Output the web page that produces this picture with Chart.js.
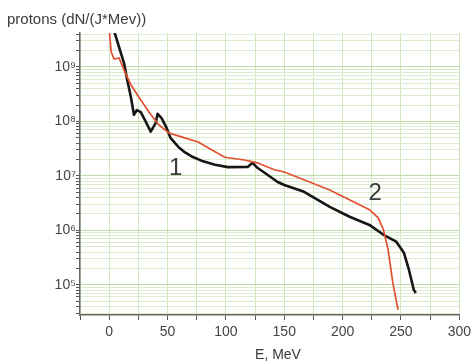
<!DOCTYPE html>
<html>
<head>
<meta charset="utf-8">
<script src="https://cdn.jsdelivr.net/npm/chart.js@4.4.1/dist/chart.umd.min.js"></script>
<style>
  body { margin: 0; background: #fff; }
  #wrap { width: 475px; height: 364px; position: relative; }
</style>
</head>
<body>
<div id="wrap"><canvas id="myChart"></canvas></div>
<script>
// curve 1 (black)
const energy1 = [3, 8.5, 12.7, 15.3, 18.6, 19.8, 21.2, 23.7, 27.1, 31.4,
    35.6, 39.8, 41.5, 44.9, 49.2, 52.5, 59.3, 65, 70.3, 80.5, 90.7,
    101.7, 118.6, 122.9, 127, 135.6, 144, 150, 167, 189, 206,
    223, 235, 246, 252.5, 256.8, 261, 262.7];
const flux1 = [5.6e9, 2.3e9, 1.18e9, 6.0e8, 2.8e8, 2.0e8, 1.32e8, 1.62e8, 1.48e8, 9.8e7,
    6.5e7, 9.3e7, 1.38e8, 1.15e8, 7.6e7, 5.0e7, 3.4e7, 2.7e7, 2.3e7, 1.85e7, 1.6e7,
    1.45e7, 1.46e7, 1.74e7, 1.41e7, 1.05e7, 7.8e6, 6.8e6, 5.1e6, 2.7e6, 1.78e6,
    1.26e6, 8.3e5, 6.2e5, 3.9e5, 1.9e5, 8.1e4, 7.1e4];

// curve 2 (red)
const energy2 = [0, 1.7, 4.2, 8.5, 12.7, 18.6, 25.4, 33.9, 42.4, 50.8,
    61.9, 76.3, 84.7, 99, 116, 127, 141.5, 150, 189, 223,
    230.5, 235, 239, 243, 247.5];
const flux2 = [5e9, 1.9e9, 1.4e9, 1.46e9, 8.8e8, 4.7e8, 2.8e8, 1.5e8, 8.7e7, 6.2e7,
    5.2e7, 4.2e7, 3.3e7, 2.2e7, 1.96e7, 1.74e7, 1.3e7, 1.18e7, 5.5e6, 2.4e6,
    1.7e6, 1.03e6, 4.4e5, 1.1e5, 3.5e4];

// curve names written on the plot
const curveNames = ['1', '2'];
const curveNameE = [57, 228];
const curveNameFlux = [1.4e7, 4.8e6];

// axes
const yDecades = [1e4, 1e5, 1e6, 1e7, 1e8, 1e9];
const yTickLabels = ['10\u2074', '10\u2075', '10\u2076', '10\u2077', '10\u2078', '10\u2079'];
const yMantissas = [1, 2, 3, 4, 5, 6, 7, 8, 9];
const xLabelled = [0, 50, 100, 150, 200, 250, 300];
const yTitle = 'protons (dN/(J*Mev))';
const xTitle = 'E, MeV';

const FONT = 'Arial, "Liberation Sans", sans-serif';

function points(xs, ys) {
    return xs.map((x, i) => ({ x: x, y: ys[i] }));
}

const textPlugin = {
    id: 'texts',
    afterDraw(chart) {
        const ctx = chart.ctx;
        const sx = chart.scales.x;
        const sy = chart.scales.y;
        ctx.save();
        ctx.fillStyle = '#3a3a3a';
        ctx.font = '15px ' + FONT;
        ctx.textAlign = 'left';
        ctx.textBaseline = 'alphabetic';
        ctx.fillText(yTitle, 7, 24);

        ctx.font = '14px ' + FONT;
        ctx.textAlign = 'center';
        ctx.fillText(xTitle, 278, 359);

        ctx.font = '24px ' + FONT;
        ctx.textBaseline = 'middle';
        for (let i = 0; i < curveNames.length; i++) {
            ctx.fillText(curveNames[i], sx.getPixelForValue(curveNameE[i]), sy.getPixelForValue(curveNameFlux[i]));
        }
        ctx.restore();
    }
};

const ctx = document.getElementById('myChart');

new Chart(ctx, {
    type: 'line',
    data: {
        datasets: [
            {
                data: points(energy1, flux1),
                borderColor: '#161616',
                borderWidth: 2.6,
                pointRadius: 0,
                borderJoinStyle: 'round',
                order: 2,
            },
            {
                data: points(energy2, flux2),
                borderColor: '#e2502f',
                borderWidth: 1.7,
                pointRadius: 0,
                order: 1,
            },
        ],
    },
    options: {
        responsive: true,
        maintainAspectRatio: false,
        animation: false,
        layout: { padding: { top: 33, right: 11, left: 0, bottom: 0 } },
        plugins: {
            legend: { display: false },
            tooltip: { enabled: false },
        },
        scales: {
            x: {
                type: 'linear',
                min: -25,
                max: 300,
                afterFit(scale) { scale.height = 49; },
                ticks: {
                    stepSize: 25,
                    autoSkip: false,
                    maxRotation: 0,
                    padding: 4,
                    color: '#444',
                    font: { family: FONT, size: 14 },
                    callback: (v) => xLabelled.includes(v) ? String(v) : '',
                },
                grid: {
                    color: '#d0e6bf',
                    lineWidth: 1,
                    tickLength: 5,
                    tickColor: '#555',
                },
                border: { display: true, color: '#666', width: 1.5 },
            },
            y: {
                type: 'logarithmic',
                min: 2.8e4,
                max: 4.2e9,
                afterFit(scale) { scale.width = 80; },
                afterBuildTicks(scale) {
                    const t = [];
                    yDecades.forEach((d) => {
                        yMantissas.forEach((m) => {
                            const v = m * d;
                            if (v >= scale.min && v <= scale.max) t.push({ value: v, major: m === 1 });
                        });
                    });
                    scale.ticks = t;
                },
                ticks: {
                    autoSkip: false,
                    padding: 0,
                    color: '#444',
                    font: { family: FONT, size: 14 },
                    callback: (v) => {
                        const i = yDecades.indexOf(v);
                        return i >= 0 ? yTickLabels[i] : '';
                    },
                },
                grid: {
                    color: (c) => (c.tick && c.tick.major) ? '#bfdaa9' : '#dcebcd',
                    lineWidth: 1,
                    tickLength: 4,
                    tickColor: '#555',
                },
                border: { display: true, color: '#666', width: 1.5 },
            },
        },
    },
    plugins: [textPlugin],
});
</script>
</body>
</html>
